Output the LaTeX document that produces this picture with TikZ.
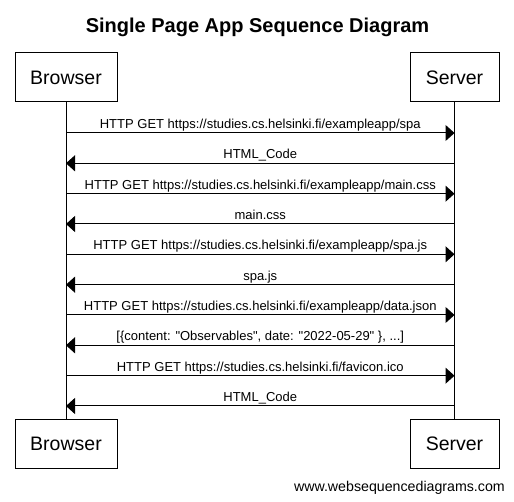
\documentclass[tikz,border=0pt]{standalone}
\usepackage{fontspec}
\setmainfont{Liberation Sans}[Ligatures=TeXOff]
\usetikzlibrary{arrows.meta}
\begin{document}
\begin{tikzpicture}[x=1pt,y=-1pt,
  actor/.style={draw,line width=1pt,inner sep=0pt,minimum height=49pt,font=\fontsize{19.5}{22}\selectfont},
  life/.style={line width=1pt},
  msg/.style={line width=1pt,-{Triangle[length=9pt,width=16pt]}},
  lbl/.style={font=\fontsize{13}{15}\selectfont,anchor=base,inner sep=0pt,yshift=4.5pt}]
\useasboundingbox (0,0) rectangle (514,502);
\fill[white] (0,0) rectangle (514,502);
\node[font=\bfseries\fontsize{20}{24}\selectfont,anchor=base,inner sep=0pt] (title) at (257.5,33) {Single Page App Sequence Diagram};
\node[actor,minimum width=102pt] (btop) at (66,77.5) {Browser};
\node[actor,minimum width=89pt] (stop) at (454.5,77.5) {Server};
\node[actor,minimum width=102pt] (bbot) at (66,443.5) {Browser};
\node[actor,minimum width=89pt] (sbot) at (454.5,443.5) {Server};
\draw[life] (btop.south) -- (bbot.north);
\draw[life] (stop.south) -- (sbot.north);
\foreach \i/\y in {1/133,2/163.3,3/193.7,4/224,5/254.3,6/284.7,7/315,8/345.3,9/375.7,10/406}{
  \coordinate (b\i) at (66,\y);
  \coordinate (s\i) at (454.5,\y);
}
\draw[msg] (b1) -- node[lbl] (l1) {HTTP GET https://studies.cs.helsinki.fi/exampleapp/spa} (s1);
\draw[msg] (s2) -- node[lbl] (l2) {HTML\_Code} (b2);
\draw[msg] (b3) -- node[lbl] (l3) {HTTP GET https://studies.cs.helsinki.fi/exampleapp/main.css} (s3);
\draw[msg] (s4) -- node[lbl] (l4) {main.css} (b4);
\draw[msg] (b5) -- node[lbl] (l5) {HTTP GET https://studies.cs.helsinki.fi/exampleapp/spa.js} (s5);
\draw[msg] (s6) -- node[lbl] (l6) {spa.js} (b6);
\draw[msg] (b7) -- node[lbl] (l7) {HTTP GET https://studies.cs.helsinki.fi/exampleapp/data.json} (s7);
\draw[msg] (s8) -- node[lbl] (l8) {[\{content: "Observables", date: "2022-05-29" \}, ...]} (b8);
\draw[msg] (b9) -- node[lbl] (l9) {HTTP GET https://studies.cs.helsinki.fi/favicon.ico} (s9);
\draw[msg] (s10) -- node[lbl] (l10) {HTML\_Code} (b10);
\node[font=\fontsize{14.2}{16}\selectfont,anchor=base east,inner sep=0pt] (foot) at (505,491) {www.websequencediagrams.com};
\end{tikzpicture}
\end{document}
